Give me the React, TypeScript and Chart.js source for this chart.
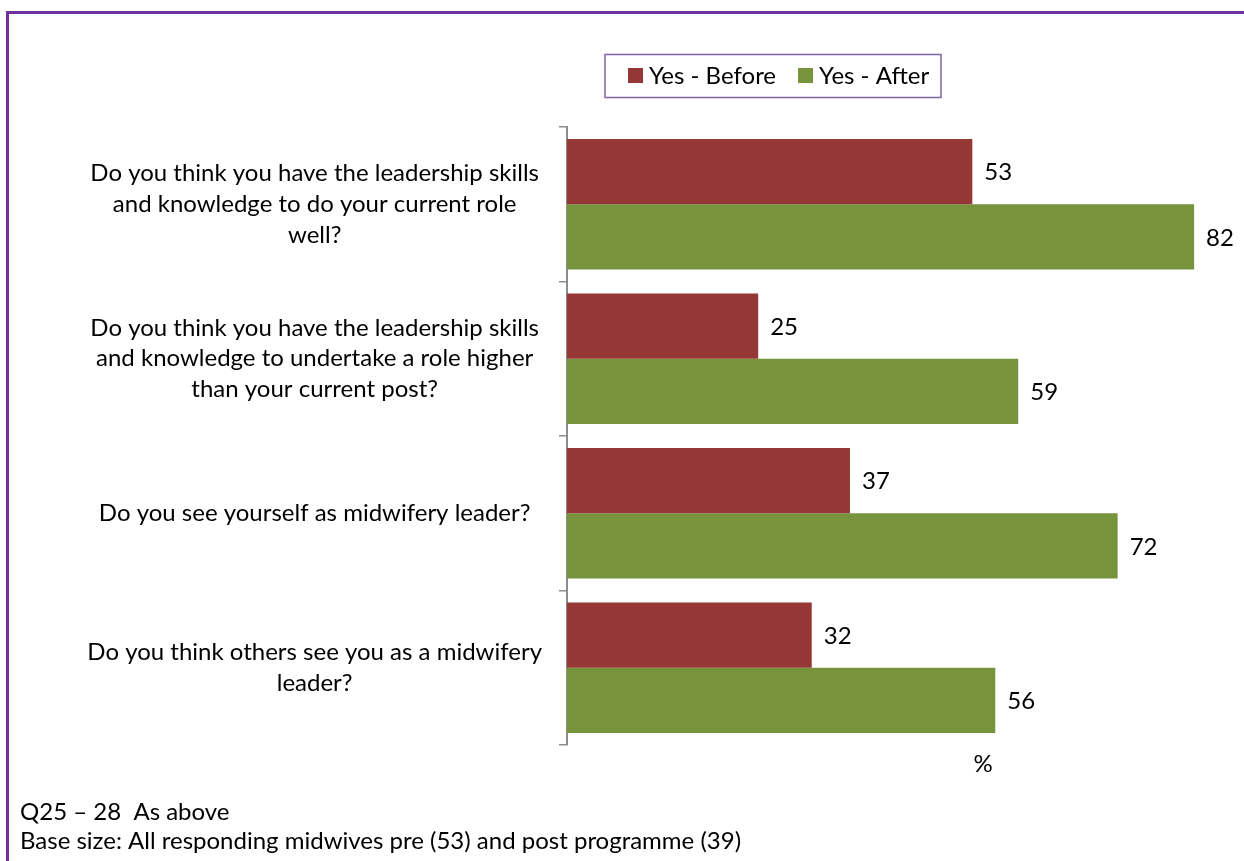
import React, { useEffect, useRef } from 'react';
import { Chart, registerables } from 'chart.js';

Chart.register(...registerables);

const categories: string[][] = [
  ['Do you think you have the leadership skills', 'and knowledge to do your current role', 'well?'],
  ['Do you think you have the leadership skills', 'and knowledge to undertake a role higher', 'than your current post?'],
  ['Do you see yourself as midwifery leader?'],
  ['Do you think others see you as a midwifery', 'leader?'],
];
const seriesNames = ['Yes - Before', 'Yes - After'];
const beforeValues = [53, 25, 37, 32];
const afterValues = [82, 59, 72, 56];
const seriesColors = ['#953735', '#77933C'];
const axisUnitLabel = '%';
const footnotes = ['Q25 \u2013 28  As above', 'Base size: All responding midwives pre (53) and post programme (39)'];

const FONT = 'Lato, "Open Sans", sans-serif';
const FS = 24;

const overlayPlugin = {
  id: 'overlay',
  afterDatasetsDraw(chart: any) {
    const ctx = chart.ctx as CanvasRenderingContext2D;
    ctx.save();
    ctx.font = `${FS}px ${FONT}`;
    ctx.fillStyle = '#000';
    ctx.textBaseline = 'middle';
    ctx.textAlign = 'left';
    chart.data.datasets.forEach((ds: any, i: number) => {
      const meta = chart.getDatasetMeta(i);
      meta.data.forEach((bar: any, j: number) => {
        ctx.fillText(String(ds.data[j]), bar.x + 12, bar.y + 1);
      });
    });

    // legend box
    ctx.strokeStyle = '#8064A2';
    ctx.lineWidth = 1.5;
    ctx.strokeRect(605, 54.5, 336, 43);
    let x = 628;
    chart.data.datasets.forEach((ds: any) => {
      ctx.fillStyle = ds.backgroundColor;
      ctx.fillRect(x, 68, 15, 15);
      ctx.fillStyle = '#000';
      ctx.fillText(ds.label, x + 21, 76);
      x += 21 + ctx.measureText(ds.label).width + 22;
    });

    // axis unit
    ctx.textAlign = 'center';
    ctx.fillText(axisUnitLabel, 983, 764);

    // footnotes
    ctx.textAlign = 'left';
    ctx.textBaseline = 'alphabetic';
    footnotes.forEach((t, i) => ctx.fillText(t, 20, 820 + i * 28.5));
    ctx.restore();
  },
};

export default function App() {
  const ref = useRef<HTMLCanvasElement | null>(null);
  useEffect(() => {
    if (!ref.current) return;
    const chart = new Chart(ref.current, {
      type: 'bar',
      data: {
        labels: categories,
        datasets: [
          { label: seriesNames[0], data: beforeValues, backgroundColor: seriesColors[0], borderWidth: 0 },
          { label: seriesNames[1], data: afterValues, backgroundColor: seriesColors[1], borderWidth: 0 },
        ],
      },
      options: {
        indexAxis: 'y',
        animation: false,
        responsive: false,
        devicePixelRatio: 1,
        datasets: { bar: { categoryPercentage: 0.846, barPercentage: 1 } },
        layout: { padding: { top: 127, bottom: 116, left: 20, right: 4 } },
        plugins: { legend: { display: false }, title: { display: false }, tooltip: { enabled: false } },
        scales: {
          x: { display: false, min: 0, max: 88 },
          y: {
            afterFit: (s: any) => { s.width = 547; },
            grid: { display: true, drawOnChartArea: false, drawTicks: true, tickLength: 8, color: '#8c8c8c', lineWidth: 1.5, offset: true },
            border: { display: true, color: '#8c8c8c', width: 2 },
            ticks: {
              crossAlign: 'center',
              padding: 17,
              color: '#000',
              font: { family: FONT, size: FS, lineHeight: 1.29 },
            },
          },
        },
      },
      plugins: [overlayPlugin],
    });
    return () => chart.destroy();
  }, []);
  return (
    <div style={{ position: 'fixed', left: 0, top: 0, width: 1244, height: 861, overflow: 'hidden', background: '#fff' }}>
      <div style={{ position: 'absolute', left: 6, top: 11, width: 1400, height: 1000, borderLeft: '3px solid #7030A0', borderTop: '3px solid #7030A0' }} />
      <canvas ref={ref} width={1244} height={861} style={{ position: 'absolute', left: 0, top: 0, width: 1244, height: 861 }} />
    </div>
  );
}
